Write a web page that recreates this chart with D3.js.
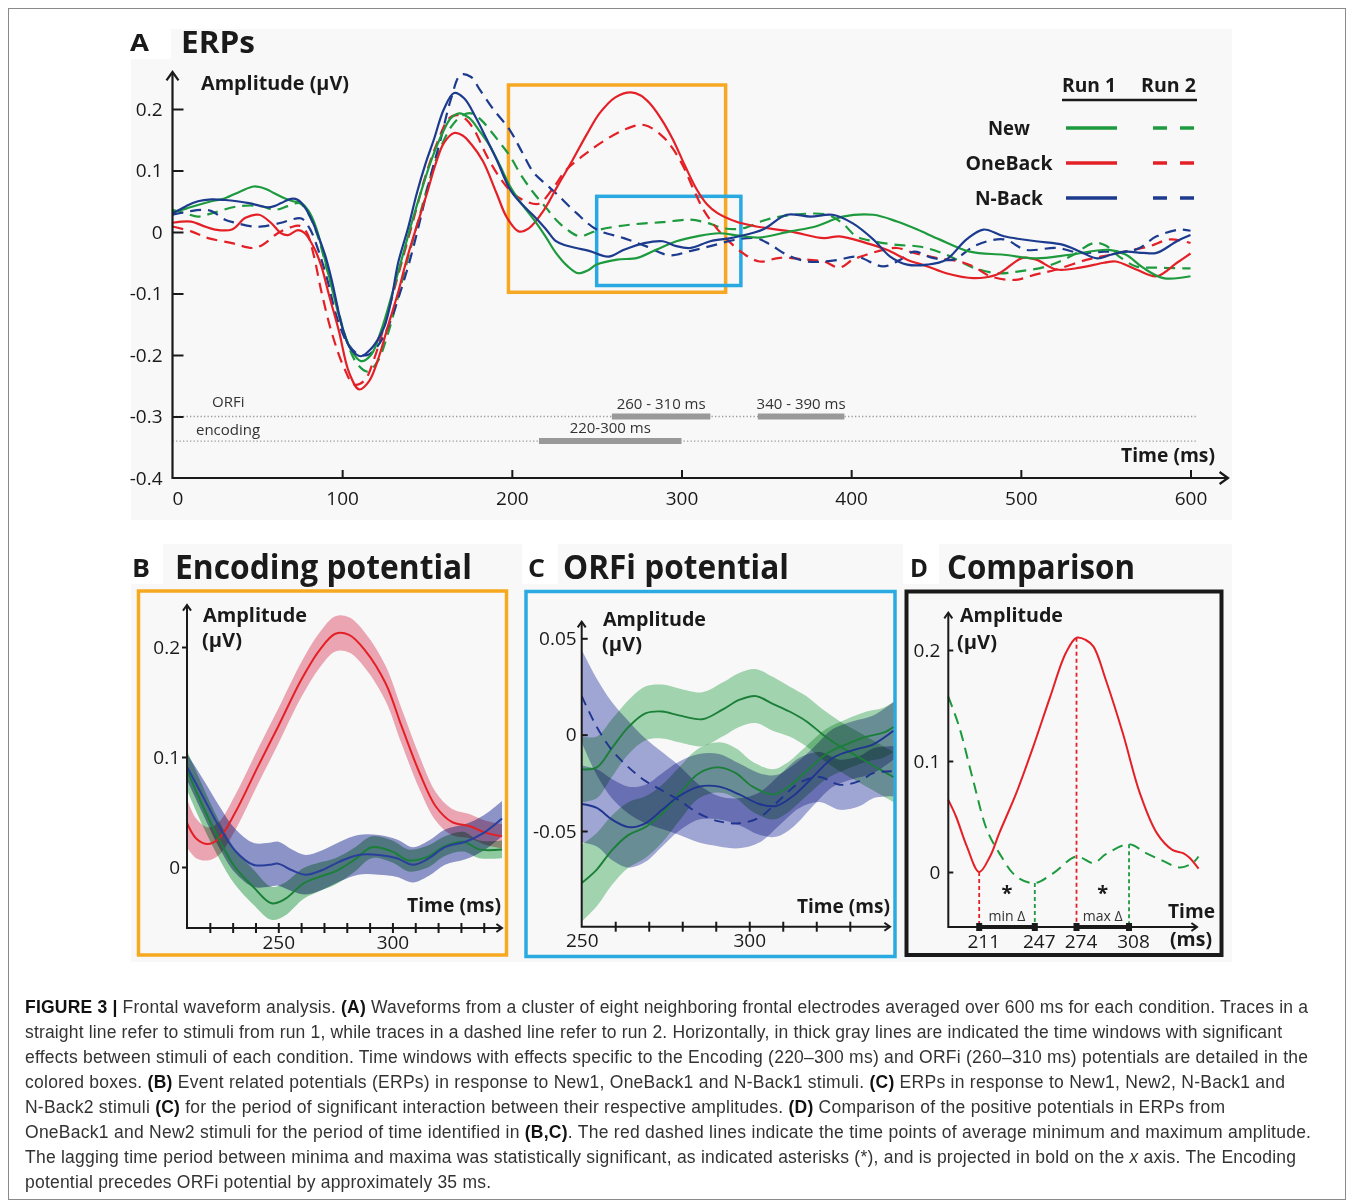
<!DOCTYPE html>
<html>
<head>
<meta charset="utf-8">
<title>Frontal waveform analysis</title>
<script src="https://cdn.jsdelivr.net/npm/d3@7"></script>
<style>
  body { margin: 0; background: #fff; }
  svg text { font-family: "Open Sans", "Noto Sans", sans-serif; fill: #1a1a1a; white-space: pre; }
  svg text.cap { font-family: "Liberation Sans", Arial, sans-serif; fill: #333; }
</style>
</head>
<body>
<svg id="chart" width="1354" height="1203"></svg>
<script>
// ---------- data ----------
// Panel A: grand averages, [time (ms), amplitude (µV)]
const new1 = [[0,0.032],[8,0.038],[15,0.044],[23,0.050],[31,0.055],[40,0.066],[48,0.074],[55,0.070],[60,0.063],[66,0.055],[71,0.050],[76,0.047],[80,0.035],[84,0.012],[88,-0.025],[93,-0.08],[99,-0.145],[105,-0.19],[111,-0.21],[117,-0.2],[123,-0.16],[129,-0.105],[135,-0.045],[141,0.015],[147,0.07],[153,0.12],[159,0.16],[164,0.185],[169,0.193],[175,0.185],[181,0.164],[187,0.14],[193,0.108],[199,0.074],[206,0.045],[213,0.020],[220,-0.008],[226,-0.034],[233,-0.056],[239,-0.067],[245,-0.062],[250,-0.053],[262,-0.045],[274,-0.042],[285,-0.029],[297,-0.015],[309,-0.007],[322,-0.002],[334,-0.006],[346,-0.009],[364,0.001],[379,0.009],[395,0.025],[413,0.028],[427,0.017],[439,0.004],[452,-0.012],[470,-0.032],[490,-0.037],[509,-0.043],[529,-0.037],[552,-0.029],[562,-0.037],[572,-0.058],[584,-0.075],[600,-0.072]];
const new2 = [[0,0.036],[8,0.030],[15,0.025],[25,0.032],[39,0.042],[52,0.042],[60,0.036],[68,0.042],[75,0.047],[81,0.025],[86,-0.01],[91,-0.06],[97,-0.12],[103,-0.18],[109,-0.215],[115,-0.227],[121,-0.21],[127,-0.165],[133,-0.105],[139,-0.04],[145,0.02],[151,0.08],[157,0.13],[164,0.17],[170,0.188],[176,0.193],[182,0.182],[187,0.166],[193,0.145],[199,0.123],[206,0.09],[213,0.063],[220,0.04],[226,0.020],[233,0.003],[240,-0.007],[246,-0.002],[252,0.004],[270,0.012],[289,0.016],[305,0.020],[315,0.015],[325,0.006],[336,0.006],[350,0.020],[366,0.028],[386,0.028],[395,0.014],[403,-0.007],[413,-0.015],[427,-0.021],[441,-0.024],[456,-0.037],[472,-0.058],[486,-0.067],[499,-0.064],[515,-0.056],[529,-0.040],[543,-0.018],[550,-0.022],[558,-0.040],[568,-0.056],[580,-0.058],[596,-0.059],[600,-0.059]];
const oneBack1 = [[0,0.015],[11,0.017],[18,0.010],[25,0.004],[35,0.004],[43,0.023],[51,0.028],[58,0.015],[64,-0.002],[68,-0.005],[74,0.003],[78,-0.002],[84,-0.029],[88,-0.058],[92,-0.10],[98,-0.16],[104,-0.228],[110,-0.256],[116,-0.242],[122,-0.2],[127,-0.153],[133,-0.098],[138,-0.045],[144,0.01],[150,0.063],[155,0.11],[160,0.145],[166,0.161],[171,0.157],[176,0.143],[183,0.115],[191,0.063],[197,0.024],[204,0.001],[210,0.006],[219,0.036],[227,0.075],[236,0.118],[244,0.158],[252,0.194],[261,0.219],[270,0.227],[276,0.222],[281,0.210],[288,0.184],[295,0.150],[302,0.108],[309,0.069],[315,0.045],[321,0.031],[332,0.017],[344,0.009],[364,0.001],[384,-0.010],[393,-0.007],[409,-0.018],[421,-0.029],[433,-0.045],[445,-0.056],[456,-0.067],[472,-0.075],[486,-0.069],[501,-0.042],[509,-0.045],[521,-0.061],[535,-0.058],[549,-0.050],[556,-0.048],[568,-0.061],[580,-0.072],[592,-0.050],[600,-0.035]];
const oneBack2 = [[0,0.009],[11,0.001],[21,-0.010],[35,-0.018],[47,-0.026],[53,-0.021],[62,-0.002],[70,0.008],[75,0.010],[79,0.0],[83,-0.035],[88,-0.10],[94,-0.165],[101,-0.22],[107,-0.248],[113,-0.242],[119,-0.205],[125,-0.15],[131,-0.09],[137,-0.03],[143,0.03],[149,0.09],[156,0.145],[163,0.185],[168,0.19],[173,0.183],[178,0.165],[185,0.125],[193,0.088],[201,0.062],[209,0.049],[216,0.046],[224,0.07],[232,0.101],[242,0.124],[252,0.144],[266,0.166],[278,0.174],[289,0.155],[295,0.135],[301,0.107],[307,0.07],[313,0.036],[319,0.012],[325,-0.007],[336,-0.034],[346,-0.048],[358,-0.042],[374,-0.045],[384,-0.048],[393,-0.058],[401,-0.045],[409,-0.037],[419,-0.029],[427,-0.026],[437,-0.034],[450,-0.042],[464,-0.048],[472,-0.056],[482,-0.072],[496,-0.078],[509,-0.069],[521,-0.061],[539,-0.045],[553,-0.037],[566,-0.029],[576,-0.023],[588,-0.012],[600,-0.018]];
const nBack1 = [[0,0.030],[8,0.042],[15,0.050],[23,0.053],[31,0.052],[38,0.050],[45,0.047],[51,0.043],[56,0.040],[60,0.042],[64,0.047],[70,0.054],[74,0.052],[78,0.040],[82,0.020],[86,-0.007],[90,-0.038],[94,-0.08],[100,-0.154],[105,-0.19],[111,-0.202],[117,-0.19],[121,-0.175],[125,-0.153],[129,-0.11],[133,-0.05],[139,0.008],[144,0.063],[149,0.11],[154,0.15],[160,0.2],[166,0.226],[172,0.217],[179,0.185],[185,0.152],[191,0.118],[199,0.069],[206,0.045],[213,0.026],[220,0.005],[226,-0.015],[232,-0.022],[238,-0.026],[246,-0.031],[257,-0.040],[266,-0.029],[278,-0.018],[289,-0.015],[297,-0.023],[305,-0.026],[317,-0.015],[329,-0.010],[334,-0.007],[348,0.004],[362,0.028],[376,0.025],[389,0.028],[401,0.014],[413,-0.012],[423,-0.040],[433,-0.053],[445,-0.053],[456,-0.045],[468,-0.012],[478,0.004],[490,-0.007],[509,-0.015],[525,-0.021],[535,-0.032],[545,-0.043],[553,-0.037],[562,-0.032],[572,-0.034],[580,-0.034],[592,-0.015],[600,-0.005]];
const nBack2 = [[0,0.028],[9,0.033],[17,0.036],[23,0.034],[31,0.020],[37,0.015],[47,0.009],[53,0.009],[64,0.015],[70,0.020],[76,0.022],[81,0.005],[86,-0.03],[91,-0.075],[97,-0.14],[103,-0.18],[109,-0.198],[115,-0.2],[121,-0.185],[127,-0.155],[134,-0.1],[140,-0.045],[146,0.02],[152,0.09],[158,0.15],[164,0.215],[170,0.256],[176,0.252],[181,0.232],[189,0.2],[199,0.165],[206,0.13],[213,0.096],[220,0.078],[226,0.063],[238,0.031],[250,0.004],[266,-0.010],[279,-0.023],[293,-0.038],[305,-0.031],[317,-0.023],[331,-0.013],[344,-0.010],[352,-0.020],[362,-0.037],[374,-0.048],[384,-0.048],[393,-0.045],[403,-0.040],[419,-0.056],[429,-0.045],[437,-0.032],[448,-0.042],[460,-0.045],[474,-0.021],[490,-0.012],[503,-0.029],[521,-0.026],[535,-0.034],[549,-0.032],[562,-0.032],[570,-0.026],[580,-0.007],[594,0.004],[600,0.002]];

const timeTicksA = [0, 100, 200, 300, 400, 500, 600];
const ampTicksA = [-0.4, -0.3, -0.2, -0.1, 0, 0.1, 0.2];
const conditions = ["New", "OneBack", "N-Back"];
const runs = ["Run 1", "Run 2"];

// significant windows (ms) and the rows they sit on (µV)
const orfiWindows = [[259, 317], [345, 396]];
const orfiWindowLabels = ["260 - 310 ms", "340 - 390 ms"];
const encodingWindows = [[216, 300]];
const encodingWindowLabels = ["220-300 ms"];
const windowRowNames = ["ORFi", "encoding"];
const windowRowLevels = [-0.3, -0.34];

// boxes marking the zoomed periods: [time range], [amplitude range]
const encodingBoxT = [198, 326], encodingBoxV = [-0.098, 0.239];
const orfiBoxT = [250, 335], orfiBoxV = [-0.087, 0.058];

// Panel B: [time, mean, half band width]
const encOneBack1 = [[210,0.040,0.022],[214,0.026,0.018],[219,0.021,0.015],[224,0.026,0.015],[231,0.049,0.016],[241,0.091,0.016],[250,0.128,0.016],[260,0.170,0.016],[268,0.197,0.016],[275,0.212,0.016],[281,0.211,0.016],[288,0.197,0.016],[297,0.167,0.016],[304,0.128,0.016],[312,0.085,0.015],[319,0.055,0.013],[326,0.041,0.012],[334,0.037,0.011],[341,0.031,0.011],[348,0.028,0.011]];
const encNew1 = [[210,0.088,0.018],[217,0.055,0.018],[224,0.025,0.017],[231,0.0,0.016],[239,-0.018,0.016],[247,-0.033,0.015],[253,-0.029,0.015],[261,-0.015,0.014],[268,-0.009,0.013],[275,-0.004,0.012],[283,0.006,0.011],[291,0.018,0.010],[300,0.014,0.010],[307,0.006,0.010],[315,0.009,0.010],[323,0.019,0.009],[331,0.023,0.009],[338,0.016,0.008],[348,0.016,0.008]];
const encNBack1 = [[210,0.091,0.012],[217,0.064,0.016],[224,0.037,0.019],[231,0.015,0.020],[239,0.002,0.020],[246,0.002,0.020],[250,0.003,0.020],[256,-0.003,0.019],[262,-0.007,0.018],[269,-0.003,0.018],[277,0.005,0.018],[285,0.011,0.018],[294,0.011,0.018],[302,0.008,0.017],[309,0.002,0.016],[316,0.008,0.016],[323,0.018,0.016],[332,0.023,0.016],[340,0.031,0.016],[348,0.044,0.016]];
const timeTicksB = [220, 230, 240, 250, 260, 270, 280, 290, 300, 310, 320, 330, 340];
const ampTicksB = [0, 0.1, 0.2];

// Panel C: [time, mean, half band width]
const orfiNew2 = [[250,-0.018,0.017],[254.5,-0.017,0.016],[259,-0.007,0.015],[264,0.004,0.014],[269,0.011,0.014],[274,0.012,0.014],[279,0.010,0.014],[286,0.008,0.014],[292,0.013,0.014],[297,0.018,0.014],[302,0.020,0.014],[307,0.016,0.014],[312,0.012,0.013],[317,0.007,0.013],[322,0.0,0.013],[327,-0.006,0.013],[332,-0.011,0.013],[337,-0.016,0.013],[343,-0.022,0.013]];
const orfiNew1 = [[250,-0.077,0.02],[254.5,-0.070,0.019],[259,-0.060,0.018],[264,-0.052,0.017],[269,-0.048,0.016],[274,-0.041,0.015],[279,-0.031,0.014],[285,-0.020,0.013],[291,-0.017,0.013],[296,-0.020,0.013],[301,-0.027,0.013],[307,-0.031,0.013],[311,-0.028,0.013],[317,-0.019,0.013],[323,-0.010,0.013],[329,-0.005,0.013],[335,-0.001,0.013],[340,0.001,0.013],[343,0.004,0.013]];
const orfiNBack1 = [[250,-0.036,0.02],[254.5,-0.038,0.02],[259,-0.044,0.021],[264,-0.048,0.021],[269,-0.046,0.02],[274,-0.039,0.019],[279,-0.032,0.018],[285,-0.027,0.017],[291,-0.027,0.017],[297,-0.031,0.016],[303,-0.036,0.016],[308,-0.037,0.016],[313,-0.032,0.016],[319,-0.022,0.015],[325,-0.012,0.015],[331,-0.008,0.015],[337,-0.005,0.015],[343,0.002,0.015]];
const orfiNBack2 = [[250,0.020,0.024],[254.5,0.004,0.025],[259,-0.008,0.025],[264,-0.017,0.024],[269,-0.024,0.022],[274,-0.029,0.02],[279,-0.034,0.018],[285,-0.041,0.015],[291,-0.045,0.013],[297,-0.046,0.013],[303,-0.043,0.013],[309,-0.034,0.013],[315,-0.025,0.013],[321,-0.022,0.013],[327,-0.026,0.013],[333,-0.024,0.013],[337,-0.020,0.013],[343,-0.019,0.013]];
const timeTicksC = [250, 260, 270, 280, 290, 300, 310, 320, 330];
const ampTicksC = [-0.05, 0, 0.05];

// Panel D: [time, amplitude]
const cmpOneBack1 = [[191,0.065],[196,0.050],[203,0.023],[211,0.0],[218,0.014],[224,0.035],[235,0.071],[246,0.113],[257,0.158],[267,0.197],[274,0.211],[280,0.209],[285,0.203],[293,0.173],[304,0.125],[315,0.071],[326,0.035],[336,0.020],[343,0.017],[347,0.013],[353,0.003]];
const cmpNew2 = [[191,0.158],[198,0.131],[207,0.083],[216,0.038],[224,0.017],[235,-0.004],[247,-0.010],[259,-0.001],[274,0.014],[285,0.008],[293,0.016],[308,0.025],[319,0.017],[330,0.010],[341,0.004],[349,0.008],[353,0.014]];
const oneBackMarks = [211, 274];   // min, max of OneBack1
const newMarks = [247, 308];       // min, max of New2
const lagIntervals = [[211, 247], [274, 308]];
const lagLabels = ["min Δ", "max Δ"];
const ampTicksD = [0, 0.1, 0.2];

// caption, one entry per printed line: [text, style]
const captionLines = [
  [["FIGURE 3 |", "b"], [" Frontal waveform analysis. ", ""], ["(A)", "b"], [" Waveforms from a cluster of eight neighboring frontal electrodes averaged over 600 ms for each condition. Traces in a", ""]],
  [["straight line refer to stimuli from run 1, while traces in a dashed line refer to run 2. Horizontally, in thick gray lines are indicated the time windows with significant", ""]],
  [["effects between stimuli of each condition. Time windows with effects specific to the Encoding (220–300 ms) and ORFi (260–310 ms) potentials are detailed in the", ""]],
  [["colored boxes. ", ""], ["(B)", "b"], [" Event related potentials (ERPs) in response to New1, OneBack1 and N-Back1 stimuli. ", ""], ["(C)", "b"], [" ERPs in response to New1, New2, N-Back1 and", ""]],
  [["N-Back2 stimuli ", ""], ["(C)", "b"], [" for the period of significant interaction between their respective amplitudes. ", ""], ["(D)", "b"], [" Comparison of the positive potentials in ERPs from", ""]],
  [["OneBack1 and New2 stimuli for the period of time identified in ", ""], ["(B,C)", "b"], [". The red dashed lines indicate the time points of average minimum and maximum amplitude.", ""]],
  [["The lagging time period between minima and maxima was statistically significant, as indicated asterisks (*), and is projected in bold on the ", ""], ["x", "i"], [" axis. The Encoding", ""]],
  [["potential precedes ORFi potential by approximately 35 ms.", ""]]
];
const captionWidths = [1283, 1257, 1283, 1260, 1200, 1286, 1271, 466];

// ---------- drawing ----------
const svg = d3.select("#chart");
const ink = "#1a1a1a";
const cGreen = "#1d9a3d", cRed = "#e42027", cBlue = "#1c3a8e";
const bandGreen = "#93cfa4", bandRed = "#f2aab7", bandBlue = "#8f97cd";
const bandGreenC = "#a6d9b3", bandBlueC = "#a5abd9";
const lineGreen = "#1b7f39", lineBlue = "#2a3f9c";
const fmt = d => d === 0 ? "0" : String(+d.toFixed(2));

svg.append("rect").attr("width", 1354).attr("height", 1203).attr("fill", "#fff");
svg.append("rect").attr("x", 8.5).attr("y", 8.5).attr("width", 1337).attr("height", 1191)
   .attr("fill", "none").attr("stroke", "#8a8a8a");

// faint grey backgrounds with white corners behind the panel letters
svg.append("rect").attr("x", 131).attr("y", 29).attr("width", 1101).attr("height", 491).attr("fill", "#f8f8f8");
svg.append("rect").attr("x", 131).attr("y", 544).attr("width", 1101).attr("height", 418).attr("fill", "#f8f8f8");
[[131, 29, 40, 30], [131, 544, 32, 40], [522, 544, 36, 40], [903, 544, 36, 40]].forEach(r =>
  svg.append("rect").attr("x", r[0]).attr("y", r[1]).attr("width", r[2]).attr("height", r[3]).attr("fill", "#fff"));

function label(g, x, y, s, o = {}) {
  const t = g.append("text").attr("x", x).attr("y", y).text(s)
    .attr("font-size", o.size || 19)
    .attr("font-weight", o.bold ? 700 : 400)
    .attr("text-anchor", o.anchor || "start");
  if (o.fit) t.attr("textLength", o.fit).attr("lengthAdjust", "spacingAndGlyphs");
  if (o.fill) t.style("fill", o.fill);
  return t;
}

function arrowAxes(g, x0, y0, xEnd, yTop, head, w) {
  const st = p => p.attr("fill", "none").attr("stroke", ink).attr("stroke-width", w);
  st(g.append("path").attr("d", `M${x0},${yTop}V${y0}H${xEnd}`));
  st(g.append("path").attr("d", `M${x0 - head},${yTop + head * 1.4}L${x0},${yTop}L${x0 + head},${yTop + head * 1.4}`));
  st(g.append("path").attr("d", `M${xEnd - head * 1.4},${y0 - head}L${xEnd},${y0}L${xEnd - head * 1.4},${y0 + head}`));
}

function styleAxis(g, size) {
  g.select(".domain").remove();
  g.attr("font-family", null).attr("font-size", size).style("color", ink);
  g.selectAll(".tick line").attr("stroke-width", 2);
}

// ---------------- Panel A ----------------
const gA = svg.append("g");
const xA = d3.scaleLinear().domain([0, 600]).range([172.5, 1190.5]);
const yA = d3.scaleLinear().domain([-0.4, 0.2]).range([478, 109]);

label(gA, 130, 51, "A", { size: 24, bold: true, fit: 19 });
label(gA, 181, 53, "ERPs", { size: 31, bold: true, fit: 74 });

// significance rows
const rowWindows = [orfiWindows, encodingWindows];
const rowLabels = [orfiWindowLabels, encodingWindowLabels];
windowRowLevels.forEach((lv, r) => {
  gA.append("line").attr("x1", xA(0)).attr("x2", xA(604)).attr("y1", yA(lv)).attr("y2", yA(lv))
    .attr("stroke", "#9a9a9a").attr("stroke-width", 1.3).attr("stroke-dasharray", "1.3,2.2");
  gA.selectAll(null).data(rowWindows[r]).join("line")
    .attr("x1", d => xA(d[0])).attr("x2", d => xA(d[1])).attr("y1", yA(lv)).attr("y2", yA(lv))
    .attr("stroke", "#999").attr("stroke-width", 6);
  gA.selectAll(null).data(rowWindows[r]).join("text")
    .attr("x", d => xA((d[0] + d[1]) / 2)).attr("y", yA(lv) - 8).attr("text-anchor", "middle")
    .attr("font-size", 15).style("fill", "#333")
    .text((d, i) => rowLabels[r][i]);
});
label(gA, 212, yA(windowRowLevels[0]) - 10, windowRowNames[0], { size: 15, fill: "#333" });
label(gA, 196, yA(windowRowLevels[1]) - 6, windowRowNames[1], { size: 15, fill: "#333" });

// zoom boxes
[[encodingBoxT, encodingBoxV, "#f7a823"], [orfiBoxT, orfiBoxV, "#29a9e1"]].forEach(b => {
  gA.append("rect").attr("x", xA(b[0][0])).attr("y", yA(b[1][1]))
    .attr("width", xA(b[0][1]) - xA(b[0][0])).attr("height", yA(b[1][0]) - yA(b[1][1]))
    .attr("fill", "none").attr("stroke", b[2]).attr("stroke-width", 3.5);
});

// waveforms
const lineA = d3.line().x(d => xA(d[0])).y(d => yA(d[1])).curve(d3.curveCatmullRom.alpha(0.5));
const seriesA = [
  { data: new2, color: cGreen, dash: true },
  { data: oneBack2, color: cRed, dash: true },
  { data: nBack2, color: cBlue, dash: true },
  { data: oneBack1, color: cRed, dash: false },
  { data: new1, color: cGreen, dash: false },
  { data: nBack1, color: cBlue, dash: false }
];
gA.selectAll("path.erp").data(seriesA).join("path").attr("class", "erp")
  .attr("d", d => lineA(d.data)).attr("fill", "none")
  .attr("stroke", d => d.color).attr("stroke-width", 2.2)
  .attr("stroke-dasharray", d => d.dash ? "11,7" : null);

// axes
arrowAxes(gA, xA(0), yA(-0.4), 1228, 72, 6, 2.2);
gA.append("g").attr("transform", `translate(${xA(0)},0)`)
  .call(d3.axisLeft(yA).tickValues(ampTicksA).tickFormat(fmt).tickSizeInner(-11).tickSizeOuter(0).tickPadding(10))
  .call(g => styleAxis(g, 19))
  .call(g => g.selectAll(".tick").filter(d => d === -0.4).select("line").remove());
gA.append("g").attr("transform", `translate(0,${yA(-0.4)})`)
  .call(d3.axisBottom(xA).tickValues(timeTicksA).tickFormat(d => d).tickSizeInner(-8).tickSizeOuter(0).tickPadding(14))
  .call(g => styleAxis(g, 19))
  .call(g => g.selectAll(".tick").filter(d => d === 0).select("line").remove())
  .call(g => g.selectAll(".tick").filter(d => d === 0).select("text").attr("dx", 5));
label(gA, 201, 90, "Amplitude (µV)", { size: 20, bold: true, fit: 148 });
label(gA, 1121, 462, "Time (ms)", { size: 20, bold: true, fit: 94 });

// legend
label(gA, 1062, 92, runs[0], { size: 20, bold: true, fit: 54 });
label(gA, 1141, 92, runs[1], { size: 20, bold: true, fit: 55 });
gA.append("line").attr("x1", 1062).attr("x2", 1197).attr("y1", 100).attr("y2", 100).attr("stroke", ink).attr("stroke-width", 2.5);
const legColors = [cGreen, cRed, cBlue];
const legFits = [42, 87, 68];
conditions.forEach((c, i) => {
  const yy = 128 + i * 35;
  label(gA, 1009, yy + 7, c, { size: 20, bold: true, anchor: "middle", fit: legFits[i] });
  gA.append("line").attr("x1", 1066).attr("x2", 1117).attr("y1", yy).attr("y2", yy)
    .attr("stroke", legColors[i]).attr("stroke-width", 3.5);
  gA.append("line").attr("x1", 1153).attr("x2", 1195).attr("y1", yy).attr("y2", yy)
    .attr("stroke", legColors[i]).attr("stroke-width", 3.5).attr("stroke-dasharray", "14,13");
});

// ---------------- Panel B ----------------
const gB = svg.append("g");
const xB = d3.scaleLinear().domain([210, 348]).range([187, 502]);
const yB = d3.scaleLinear().domain([0, 0.2]).range([867, 647]);
const axisYB = 928;
gB.append("rect").attr("x", 138.5).attr("y", 591).attr("width", 368).attr("height", 364)
  .attr("fill", "#f8f8f8").attr("stroke", "#f6a81f").attr("stroke-width", 3.5);
label(gB, 132, 577, "B", { size: 25, bold: true, fit: 18 });
label(gB, 175, 579, "Encoding potential", { size: 34, bold: true, fit: 297 });

const bandB = d3.area().x(d => xB(d[0])).y0(d => yB(d[1] - d[2])).y1(d => yB(d[1] + d[2])).curve(d3.curveCatmullRom);
const lineB = d3.line().x(d => xB(d[0])).y(d => yB(d[1])).curve(d3.curveCatmullRom);
const seriesB = [
  { data: encOneBack1, band: bandRed, line: cRed },
  { data: encNew1, band: bandGreen, line: lineGreen },
  { data: encNBack1, band: bandBlue, line: lineBlue }
];
gB.selectAll("path.band").data(seriesB).join("path").attr("class", "band")
  .attr("d", d => bandB(d.data)).attr("fill", d => d.band).style("mix-blend-mode", "multiply");
gB.selectAll("path.mean").data(seriesB).join("path").attr("class", "mean")
  .attr("d", d => lineB(d.data)).attr("fill", "none").attr("stroke", d => d.line).attr("stroke-width", 2);

arrowAxes(gB, 187, axisYB, 502, 605, 4, 2);
gB.append("g").attr("transform", `translate(187,0)`)
  .call(d3.axisLeft(yB).tickValues(ampTicksB).tickFormat(fmt).tickSizeInner(5).tickSizeOuter(0).tickPadding(2))
  .call(g => styleAxis(g, 19));
gB.append("g").attr("transform", `translate(0,${axisYB})`)
  .call(d3.axisBottom(xB).tickValues(timeTicksB).tickFormat(d => d % 50 === 0 ? d : "").tickSizeInner(5).tickSizeOuter(0).tickPadding(3))
  .call(g => styleAxis(g, 19))
  .call(g => g.selectAll(".tick line").attr("y1", -5).attr("y2", 5));
label(gB, 203, 622, "Amplitude", { size: 20, bold: true, fit: 104 });
label(gB, 202, 647, "(µV)", { size: 19, bold: true, fit: 40 });
label(gB, 407, 912, "Time (ms)", { size: 20, bold: true, fit: 94 });

// ---------------- Panel C ----------------
const gC = svg.append("g");
const xC = d3.scaleLinear().domain([250, 342]).range([581.7, 890]);
const yC = d3.scaleLinear().domain([-0.05, 0.05]).range([831, 638.3]);
const axisYC = 926.7;
gC.append("rect").attr("x", 526).attr("y", 591.5).attr("width", 369).attr("height", 365)
  .attr("fill", "#f8f8f8").attr("stroke", "#29abe2").attr("stroke-width", 3.5);
label(gC, 528, 577, "C", { size: 25, bold: true, fit: 17 });
label(gC, 563, 579, "ORFi potential", { size: 34, bold: true, fit: 226 });

const bandC = d3.area().x(d => xC(d[0])).y0(d => yC(d[1] - d[2])).y1(d => yC(d[1] + d[2])).curve(d3.curveCatmullRom);
const lineC = d3.line().x(d => xC(d[0])).y(d => yC(d[1])).curve(d3.curveCatmullRom);
const seriesC = [
  { data: orfiNew2, band: bandGreenC, line: lineGreen, dash: false },
  { data: orfiNew1, band: bandGreenC, line: lineGreen, dash: false },
  { data: orfiNBack2, band: bandBlueC, line: "#1f3590", dash: true },
  { data: orfiNBack1, band: bandBlueC, line: "#1f3590", dash: false }
];
gC.selectAll("path.band").data(seriesC).join("path").attr("class", "band")
  .attr("d", d => bandC(d.data)).attr("fill", d => d.band).style("mix-blend-mode", "multiply");
gC.selectAll("path.mean").data(seriesC).join("path").attr("class", "mean")
  .attr("d", d => lineC(d.data)).attr("fill", "none").attr("stroke", d => d.line).attr("stroke-width", 1.9)
  .attr("stroke-dasharray", d => d.dash ? "10,7" : null);

arrowAxes(gC, 581.7, axisYC, 890, 621.7, 4, 2);
gC.append("g").attr("transform", `translate(581.7,0)`)
  .call(d3.axisLeft(yC).tickValues(ampTicksC).tickFormat(fmt).tickSizeInner(-6).tickSizeOuter(0).tickPadding(5))
  .call(g => styleAxis(g, 19));
gC.append("g").attr("transform", `translate(0,${axisYC})`)
  .call(d3.axisBottom(xC).tickValues(timeTicksC).tickFormat(d => d % 50 === 0 ? d : "").tickSizeInner(5).tickSizeOuter(0).tickPadding(2))
  .call(g => styleAxis(g, 19))
  .call(g => g.selectAll(".tick line").attr("y1", -5).attr("y2", 5))
  .call(g => g.selectAll(".tick").filter(d => d === 250).select("line").remove());
label(gC, 603, 626, "Amplitude", { size: 20, bold: true, fit: 103 });
label(gC, 602, 651, "(µV)", { size: 19, bold: true, fit: 40 });
label(gC, 797, 913, "Time (ms)", { size: 20, bold: true, fit: 93 });

// ---------------- Panel D ----------------
const gD = svg.append("g");
const xD = d3.scaleLinear().domain([191, 352]).range([948.3, 1197]);
const yD = d3.scaleLinear().domain([0, 0.2]).range([872, 650]);
const axisYD = 927;
gD.append("rect").attr("x", 906.5).attr("y", 591.5).attr("width", 315).attr("height", 363.5)
  .attr("fill", "#f8f8f8").attr("stroke", ink).attr("stroke-width", 4);
label(gD, 910, 577, "D", { size: 25, bold: true, fit: 18 });
label(gD, 947, 579, "Comparison", { size: 34, bold: true, fit: 188 });

const valAt = (data, t) => {
  const i = d3.bisector(d => d[0]).left(data, t);
  if (i <= 0) return data[0][1];
  if (i >= data.length) return data[data.length - 1][1];
  const a = data[i - 1], b = data[i];
  return a[1] + (b[1] - a[1]) * (t - a[0]) / (b[0] - a[0]);
};
gD.selectAll(null).data(oneBackMarks).join("line")
  .attr("x1", d => xD(d)).attr("x2", d => xD(d)).attr("y1", d => yD(valAt(cmpOneBack1, d))).attr("y2", axisYD)
  .attr("stroke", cRed).attr("stroke-width", 1.8).attr("stroke-dasharray", "4,3");
gD.selectAll(null).data(newMarks).join("line")
  .attr("x1", d => xD(d)).attr("x2", d => xD(d)).attr("y1", d => yD(valAt(cmpNew2, d))).attr("y2", axisYD)
  .attr("stroke", cGreen).attr("stroke-width", 1.8).attr("stroke-dasharray", "4,3");

const lineD = d3.line().x(d => xD(d[0])).y(d => yD(d[1])).curve(d3.curveCatmullRom);
gD.append("path").attr("d", lineD(cmpNew2)).attr("fill", "none").attr("stroke", cGreen)
  .attr("stroke-width", 2).attr("stroke-dasharray", "11,7");
gD.append("path").attr("d", lineD(cmpOneBack1)).attr("fill", "none").attr("stroke", cRed).attr("stroke-width", 2);

arrowAxes(gD, 948.3, axisYD, 1197, 612.7, 4, 2);
gD.append("g").attr("transform", `translate(948.3,0)`)
  .call(d3.axisLeft(yD).tickValues(ampTicksD).tickFormat(fmt).tickSizeInner(-5).tickSizeOuter(0).tickPadding(8))
  .call(g => styleAxis(g, 19));
gD.append("g").attr("transform", `translate(0,${axisYD})`)
  .call(d3.axisBottom(xD).tickValues(lagIntervals.flat()).tickFormat(d => d).tickSizeInner(0).tickSizeOuter(0).tickPadding(8))
  .call(g => styleAxis(g, 19))
  .call(g => g.selectAll(".tick text").attr("dx", 4));
gD.selectAll(null).data(lagIntervals).join("line")
  .attr("x1", d => xD(d[0])).attr("x2", d => xD(d[1])).attr("y1", axisYD).attr("y2", axisYD)
  .attr("stroke", ink).attr("stroke-width", 4);
gD.selectAll(null).data(lagIntervals.flat()).join("rect")
  .attr("x", d => xD(d) - 3).attr("y", axisYD - 4).attr("width", 6).attr("height", 8).attr("fill", ink);
gD.selectAll(null).data(lagIntervals).join("text")
  .attr("x", d => xD((d[0] + d[1]) / 2)).attr("y", 900).attr("text-anchor", "middle")
  .attr("font-size", 20).attr("font-weight", 700).text("*");
gD.selectAll(null).data(lagIntervals).join("text")
  .attr("x", d => xD((d[0] + d[1]) / 2)).attr("y", 921).attr("text-anchor", "middle")
  .attr("font-size", 14).style("fill", "#333").text((d, i) => lagLabels[i]);
label(gD, 960, 622, "Amplitude", { size: 20, bold: true, fit: 103 });
label(gD, 957, 649, "(µV)", { size: 19, bold: true, fit: 40 });
label(gD, 1168, 918, "Time", { size: 20, bold: true, fit: 47 });
label(gD, 1170, 946, "(ms)", { size: 20, bold: true, fit: 42 });

// ---------------- caption ----------------
const gCap = svg.append("g");
captionLines.forEach((segs, i) => {
  const t = gCap.append("text").attr("class", "cap").attr("x", 25).attr("y", 1013 + i * 25)
    .attr("font-size", 17.5)
    .attr("textLength", captionWidths[i]).attr("lengthAdjust", "spacing");
  segs.forEach(s => {
    const sp = t.append("tspan").text(s[0]);
    if (s[1] === "b") sp.attr("font-weight", 700).style("fill", "#111");
    if (s[1] === "i") sp.attr("font-style", "italic");
  });
});
</script>
</body>
</html>
